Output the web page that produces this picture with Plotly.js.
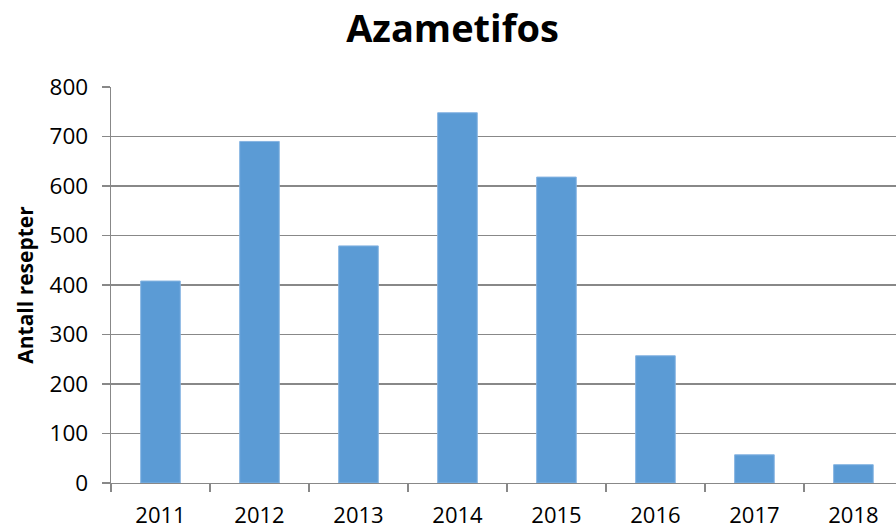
<!DOCTYPE html>
<html>
<head>
<meta charset="utf-8">
<script src="https://cdn.plot.ly/plotly-3.0.1.min.js"></script>
<style>html,body{margin:0;padding:0;background:#fff}#chart{width:896px;height:531px}</style>
</head>
<body>
<div id="chart"></div>
<script>
const years = ["2011","2012","2013","2014","2015","2016","2017","2018"];
const prescriptions = [408, 690, 479, 748, 618, 257, 57, 37];
const yTicks = [0,100,200,300,400,500,600,700,800];
const chartTitle = "Azametifos";
const yTitle = "Antall resepter";

const font = "Open Sans, Noto Sans, sans-serif";
Plotly.newPlot("chart", [{
  type: "bar",
  x: years,
  y: prescriptions,
  width: 0.4,
  marker: {color: "#5B9BD5", line: {color: "#86b4e2", width: 1}},
  hoverinfo: "x+y"
}], {
  width: 896, height: 531,
  margin: {l: 111, r: 0, t: 87, b: 48, pad: 0},
  paper_bgcolor: "#fff", plot_bgcolor: "#fff",
  title: {text: "<b>" + chartTitle + "</b>", x: 0.505, xanchor: "center", y: 0.946, yanchor: "middle",
          font: {family: font, size: 38, color: "#000"}},
  xaxis: {
    type: "category",
    range: [-0.5, 7.43],
    tickson: "boundaries",
    ticks: "outside", ticklen: 8, tickcolor: "#888", tickwidth: 1.3,
    showline: true, linecolor: "#888", linewidth: 1.3,
    showgrid: false,
    tickfont: {family: font, size: 22, color: "#000"},
    ticklabelstandoff: 12,
    fixedrange: true
  },
  yaxis: {
    range: [0, 800],
    tickvals: yTicks,
    ticktext: yTicks.map(String),
    ticks: "outside", ticklen: 8, tickcolor: "#888", tickwidth: 1.3,
    showline: true, linecolor: "#888", linewidth: 1.3,
    showgrid: true, gridcolor: "#888", gridwidth: 1.3,
    zeroline: false,
    tickfont: {family: font, size: 22.5, color: "#000"},
    ticklabelstandoff: 9,
    title: {text: "<b>" + yTitle + "</b>", font: {family: font, size: 21, color: "#000"}, standoff: 10},
    fixedrange: true
  },
  showlegend: false,
  bargap: 0.6
}, {displayModeBar: false, staticPlot: true});
</script>
</body>
</html>
